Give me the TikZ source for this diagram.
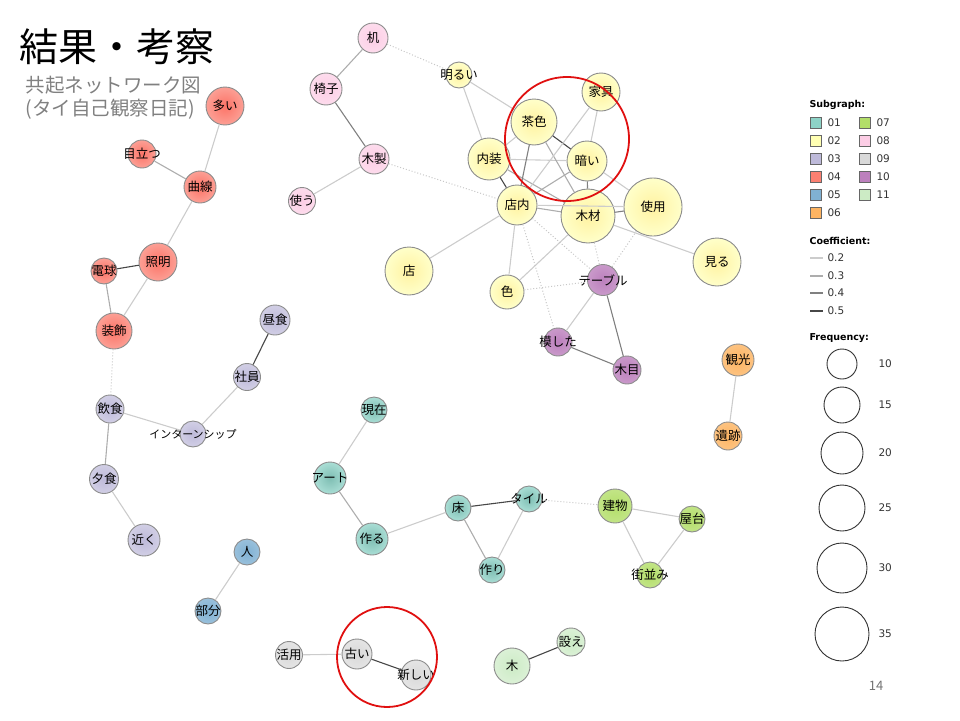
\documentclass[tikz,border=0pt]{standalone}
\usepackage{fontspec}
\setmainfont{Noto Sans CJK JP}
\newfontfamily\legfont{DejaVu Sans}
\usepackage{tikz}
\definecolor{c01}{HTML}{8DD3C7}
\definecolor{c02}{HTML}{FFFFB3}
\definecolor{c03}{HTML}{BEBADA}
\definecolor{c04}{HTML}{FB8072}
\definecolor{c05}{HTML}{80B1D3}
\definecolor{c06}{HTML}{FDB462}
\definecolor{c07}{HTML}{B3DE69}
\definecolor{c08}{HTML}{FCCDE5}
\definecolor{c09}{HTML}{D9D9D9}
\definecolor{c10}{HTML}{BC80BD}
\definecolor{c11}{HTML}{CCEBC5}
\definecolor{hired}{HTML}{E01010}

\begin{document}
\begin{tikzpicture}[x=1pt, y=-1pt,
		wd/.style={circle, draw=black!45, line width=0.9, inner sep=0pt, minimum size=#1},
		every label/.style={font=\fontsize{12.5}{13}\selectfont, text=black, inner sep=0pt},
		g01/.style={inner color=c01!90!black, outer color=c01!75!white},
		g02/.style={inner color=c02!90!orange, outer color=c02!70!white},
		g03/.style={inner color=c03, outer color=c03!70!white},
		g04/.style={inner color=c04!90!red, outer color=c04!75!white},
		g05/.style={inner color=c05, outer color=c05!80!white},
		g06/.style={inner color=c06, outer color=c06!80!white},
		g07/.style={inner color=c07, outer color=c07!80!white},
		g08/.style={inner color=c08, outer color=c08!70!white},
		g09/.style={inner color=c09, outer color=c09!70!white},
		g10/.style={inner color=c10, outer color=c10!80!white},
		g11/.style={inner color=c11, outer color=c11!70!white},
		k2/.style={draw=black!20, line width=1.1},
		k3/.style={draw=black!32, line width=1.1},
		k4/.style={draw=black!50, line width=1.1},
		k5/.style={draw=black!72, line width=1.1},
		kd/.style={draw=black!22, dotted, line width=1},
		sq/.style={draw=black!60, line width=0.7, minimum size=11, inner sep=0pt},
		legtxt/.style={anchor=west, font=\legfont\fontsize{10.5}{11}\selectfont, text=black!80},
		leghead/.style={anchor=west, font=\legfont\bfseries\fontsize{9.5}{10}\selectfont}]
	\useasboundingbox (0,0) rectangle (960,720);

	% title
	\node[anchor=west, font=\fontsize{39}{39}\selectfont] (title) at (16,47) {結果・考察};
	\node[anchor=north west, align=left, text=black!50, font=\fontsize{19.5}{23}\selectfont] (subtitle) at (22,73) {共起ネットワーク図\\(タイ自己観察日記)};

	% subgraph 04
	\node[wd=38, g04, label=center:多い] (ooi) at (225,106) {};
	\node[wd=28, g04, label=center:目立つ] (medatsu) at (142,154) {};
	\node[wd=32, g04, label=center:曲線] (kyokusen) at (200,187) {};
	\node[wd=38, g04, label=center:照明] (shomei) at (158,262) {};
	\node[wd=26, g04, label=center:電球] (denkyu) at (104,271) {};
	\node[wd=36, g04, label=center:装飾] (soshoku) at (114,331) {};
	% subgraph 08
	\node[wd=30, g08, label=center:机] (tsukue) at (373,38) {};
	\node[wd=32, g08, label=center:椅子] (isu) at (326,89) {};
	\node[wd=30, g08, label=center:木製] (mokusei) at (374,159) {};
	\node[wd=27, g08, label=center:使う] (tsukau) at (302,201) {};
	% subgraph 02
	\node[wd=26, g02, label=center:明るい] (akarui) at (459,75) {};
	\node[wd=46, g02, label=center:茶色] (chairo) at (534,122) {};
	\node[wd=38, g02, label=center:家具] (kagu) at (601,92) {};
	\node[wd=42, g02, label=center:内装] (naiso) at (489,159) {};
	\node[wd=40, g02, label=center:暗い] (kurai) at (587,161) {};
	\node[wd=40, g02, label=center:店内] (tennai) at (517,205) {};
	\node[wd=54, g02, label=center:木材] (mokuzai) at (588,216) {};
	\node[wd=58, g02, label=center:使用] (shiyo) at (653,207) {};
	\node[wd=48, g02, label=center:見る] (miru) at (717,262) {};
	\node[wd=48, g02, label=center:店] (mise) at (409,271) {};
	\node[wd=34, g02, label=center:色] (iro) at (507,292) {};
	% subgraph 10
	\node[wd=31, g10, label=center:テーブル] (table) at (603,280) {};
	\node[wd=28, g10, label=center:模した] (moshita) at (558,342) {};
	\node[wd=28, g10, label=center:木目] (mokume) at (627,370) {};
	% subgraph 06
	\node[wd=32, g06, label=center:観光] (kanko) at (738,360) {};
	\node[wd=28, g06, label=center:遺跡] (iseki) at (728,436) {};
	% subgraph 03
	\node[wd=30, g03, label=center:昼食] (chushoku) at (275,320) {};
	\node[wd=27, g03, label=center:社員] (shain) at (247,377) {};
	\node[wd=28, g03, label=center:飲食] (inshoku) at (110,409) {};
	\node[wd=26, g03, label={[font=\fontsize{11}{11}\selectfont]center:インターンシップ}] (intern) at (193,434) {};
	\node[wd=29, g03, label=center:夕食] (yushoku) at (104,479) {};
	\node[wd=32, g03, label=center:近く] (chikaku) at (144,540) {};
	% subgraph 01
	\node[wd=26, g01, label=center:現在] (genzai) at (374,410) {};
	\node[wd=32, g01, label=center:アート] (art) at (330,478) {};
	\node[wd=32, g01, label=center:作る] (tsukuru) at (372,539) {};
	\node[wd=26, g01, label=center:床] (yuka) at (458,508) {};
	\node[wd=26, g01, label=center:タイル] (tile) at (529,499) {};
	\node[wd=26, g01, label=center:作り] (tsukuri) at (492,570) {};
	% subgraph 07
	\node[wd=34, g07, label=center:建物] (tatemono) at (615,506) {};
	\node[wd=26, g07, label=center:屋台] (yatai) at (692,519) {};
	\node[wd=26, g07, label=center:街並み] (machinami) at (650,575) {};
	% subgraph 05
	\node[wd=26, g05, label=center:人] (hito) at (247,552) {};
	\node[wd=26, g05, label=center:部分] (bubun) at (208,611) {};
	% subgraph 09
	\node[wd=27, g09, label=center:活用] (katsuyo) at (289,655) {};
	\node[wd=30, g09, label=center:古い] (furui) at (357,654) {};
	\node[wd=30, g09, label=center:新しい] (atarashii) at (416,675) {};
	% subgraph 11
	\node[wd=36, g11, label=center:木] (ki) at (512,666) {};
	\node[wd=28, g11, label=center:設え] (shitsurae) at (571,642) {};

	% edges
	\draw[k2] (ooi) -- (kyokusen);
	\draw[k3] (medatsu) -- (kyokusen);
	\draw[k2] (kyokusen) -- (shomei);
	\draw[k5] (shomei) -- (denkyu);
	\draw[k2] (shomei) -- (soshoku);
	\draw[k3] (denkyu) -- (soshoku);
	\draw[kd] (soshoku) -- (inshoku);
	\draw[k3] (tsukue) -- (isu);
	\draw[k4] (isu) -- (mokusei);
	\draw[k2] (mokusei) -- (tsukau);
	\draw[kd] (tsukue) -- (akarui);
	\draw[kd] (mokusei) -- (tennai);
	\draw[k2] (akarui) -- (naiso);
	\draw[k2] (akarui) -- (chairo);
	\draw[k2] (naiso) -- (chairo);
	\draw[k2] (naiso) -- (kurai);
	\draw[k5] (naiso) -- (tennai);
	\draw[k3] (naiso) -- (mokuzai);
	\draw[k5] (chairo) -- (kurai);
	\draw[k4] (chairo) -- (tennai);
	\draw[k3] (chairo) -- (mokuzai);
	\draw[k2] (kagu) -- (tennai);
	\draw[k2] (kagu) -- (kurai);
	\draw[k3] (kurai) -- (tennai);
	\draw[k4] (kurai) -- (mokuzai);
	\draw[k2] (kurai) -- (shiyo);
	\draw[k3] (tennai) -- (mokuzai);
	\draw[k2] (tennai) -- (shiyo);
	\draw[k4] (mokuzai) -- (shiyo);
	\draw[k2] (mokuzai) -- (miru);
	\draw[k2] (tennai) -- (mise);
	\draw[k2] (tennai) -- (iro);
	\draw[k2] (mokuzai) -- (iro);
	\draw[kd] (tennai) -- (table);
	\draw[kd] (tennai) -- (moshita);
	\draw[kd] (mokuzai) -- (table);
	\draw[kd] (shiyo) -- (table);
	\draw[kd] (iro) -- (table);
	\draw[k2] (table) -- (moshita);
	\draw[k4] (table) -- (mokume);
	\draw[k4] (moshita) -- (mokume);
	\draw[k2] (kanko) -- (iseki);
	\draw[k5] (chushoku) -- (shain);
	\draw[k2] (shain) -- (intern);
	\draw[k2] (inshoku) -- (intern);
	\draw[k3] (inshoku) -- (yushoku);
	\draw[k2] (yushoku) -- (chikaku);
	\draw[k2] (genzai) -- (art);
	\draw[k3] (art) -- (tsukuru);
	\draw[k2] (tsukuru) -- (yuka);
	\draw[k5] (yuka) -- (tile);
	\draw[k3] (yuka) -- (tsukuri);
	\draw[k2] (tile) -- (tsukuri);
	\draw[kd] (tile) -- (tatemono);
	\draw[k2] (tatemono) -- (yatai);
	\draw[k2] (tatemono) -- (machinami);
	\draw[k2] (yatai) -- (machinami);
	\draw[k2] (hito) -- (bubun);
	\draw[k2] (katsuyo) -- (furui);
	\draw[k5] (furui) -- (atarashii);
	\draw[k5] (ki) -- (shitsurae);

	% highlights
	\draw[hired, line width=1.8] (567,139) circle (62);
	\draw[hired, line width=1.8] (387,657) circle (50);

	% legend
	\node[leghead] (subg) at (806,105) {Subgraph:};
	\node[sq, fill=c01] (s01) at (816,123) {};
	\node[legtxt] (t01) at (824,123) {01};
	\node[sq, fill=c02] (s02) at (816,141) {};
	\node[legtxt] (t02) at (824,141) {02};
	\node[sq, fill=c03] (s03) at (816,159) {};
	\node[legtxt] (t03) at (824,159) {03};
	\node[sq, fill=c04] (s04) at (816,177) {};
	\node[legtxt] (t04) at (824,177) {04};
	\node[sq, fill=c05] (s05) at (816,195) {};
	\node[legtxt] (t05) at (824,195) {05};
	\node[sq, fill=c06] (s06) at (816,213) {};
	\node[legtxt] (t06) at (824,213) {06};
	\node[sq, fill=c07] (s07) at (865,123) {};
	\node[legtxt] (t07) at (873,123) {07};
	\node[sq, fill=c08] (s08) at (865,141) {};
	\node[legtxt] (t08) at (873,141) {08};
	\node[sq, fill=c09] (s09) at (865,159) {};
	\node[legtxt] (t09) at (873,159) {09};
	\node[sq, fill=c10] (s10) at (865,177) {};
	\node[legtxt] (t10) at (873,177) {10};
	\node[sq, fill=c11] (s11) at (865,195) {};
	\node[legtxt] (t11) at (873,195) {11};

	\node[leghead] (coef) at (806,241) {Coefficient:};
	\draw[k2] (810,258) -- (823,258);
	\node[legtxt] (c2) at (824,258) {0.2};
	\draw[k3] (810,276) -- (823,276);
	\node[legtxt] (c3) at (824,276) {0.3};
	\draw[k4] (810,293) -- (823,293);
	\node[legtxt] (c4) at (824,293) {0.4};
	\draw[k5] (810,311) -- (823,311);
	\node[legtxt] (c5) at (824,311) {0.5};

	\node[leghead] (freq) at (806,338) {Frequency:};
	\draw[black!80, line width=0.9] (842,364) circle (15);
	\node[legtxt] (f10) at (875,364) {10};
	\draw[black!80, line width=0.9] (842,405) circle (18);
	\node[legtxt] (f15) at (875,405) {15};
	\draw[black!80, line width=0.9] (842,453) circle (21);
	\node[legtxt] (f20) at (875,453) {20};
	\draw[black!80, line width=0.9] (842,508) circle (23);
	\node[legtxt] (f25) at (875,508) {25};
	\draw[black!80, line width=0.9] (842,568) circle (25);
	\node[legtxt] (f30) at (875,568) {30};
	\draw[black!80, line width=0.9] (842,634) circle (27);
	\node[legtxt] (f35) at (875,634) {35};

	% page number
	\node[text=black!55, font=\fontsize{13}{13}\selectfont] (page) at (876,686) {14};
\end{tikzpicture}
\end{document}
